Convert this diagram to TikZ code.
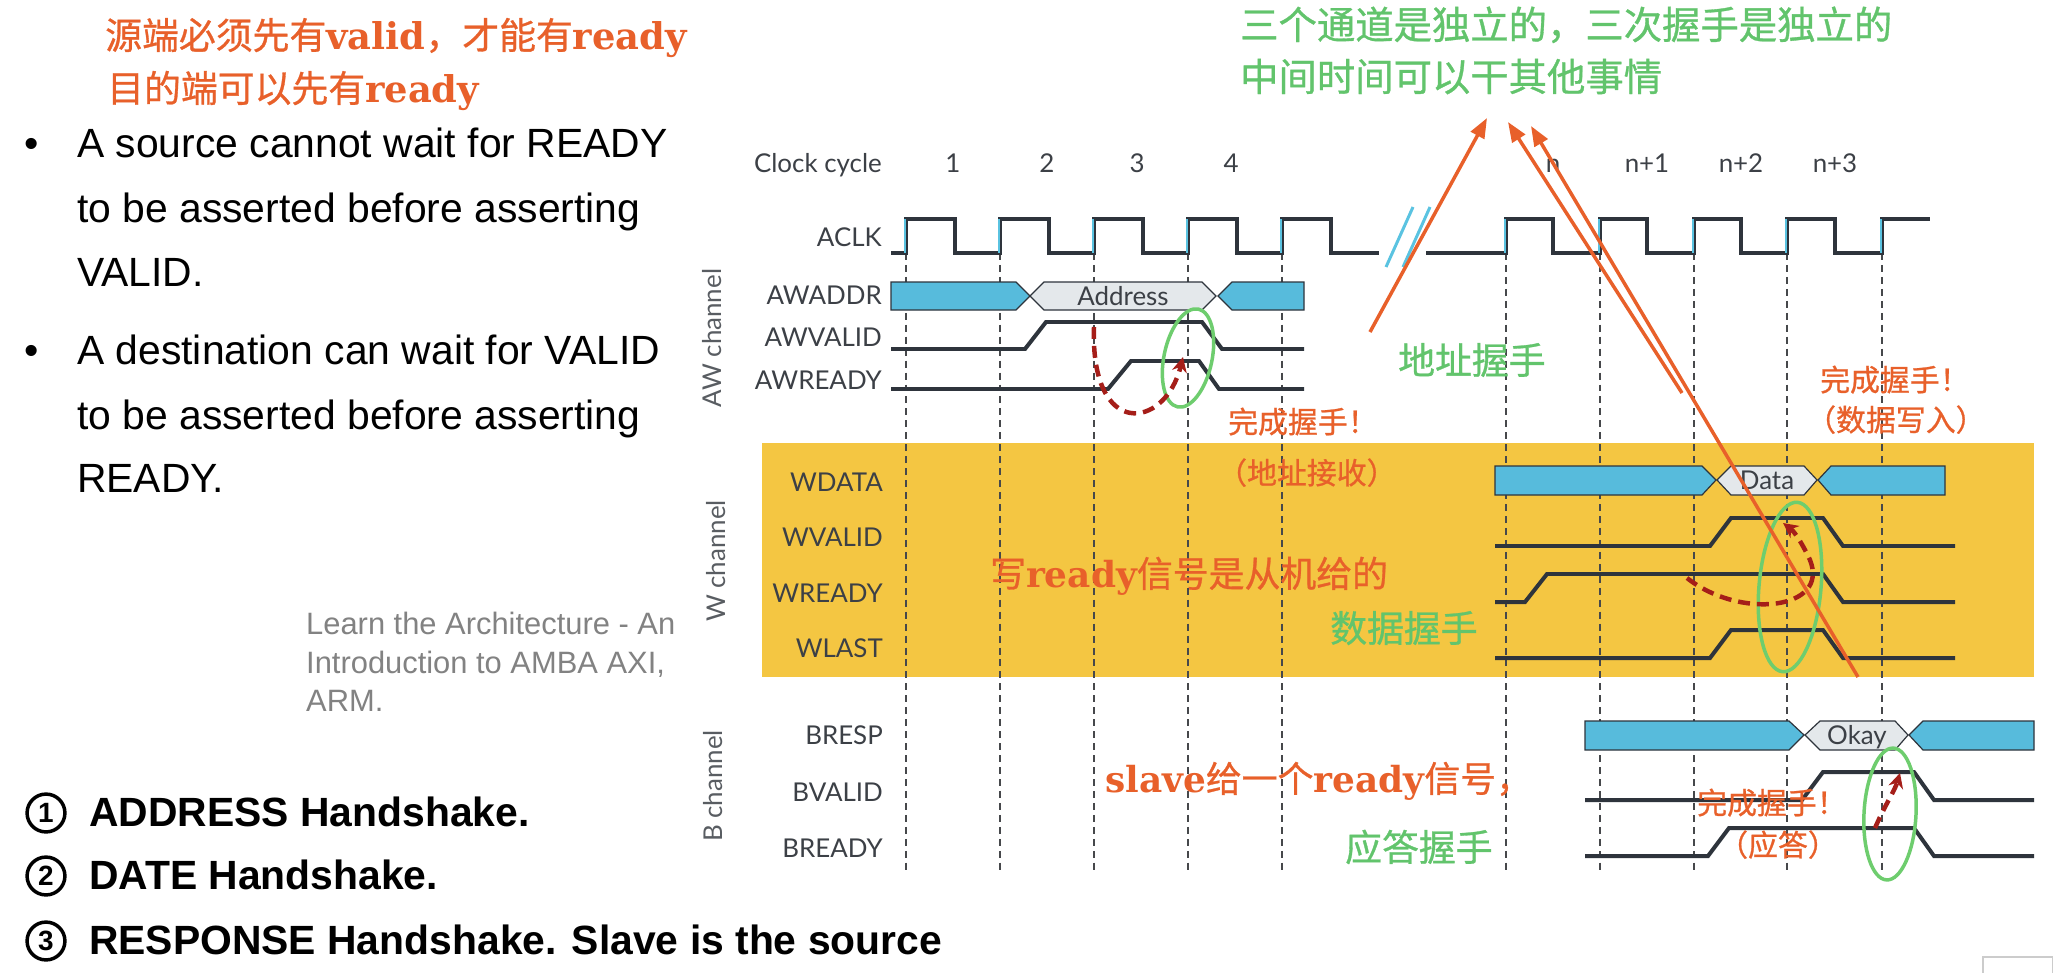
\documentclass[tikz,border=0pt]{standalone}
\usepackage{fontspec}
\setmainfont{Liberation Sans}
\newfontfamily\latofont{Lato}
\newfontfamily\cjkfont{Noto Sans CJK SC}[FakeBold=0.8]
\newfontfamily\slabfont{DejaVu Serif}
\usetikzlibrary{arrows.meta}

\definecolor{sigdark}{RGB}{46,52,60}
\definecolor{busblue}{RGB}{87,187,220}
\definecolor{hexgray}{RGB}{228,232,235}
\definecolor{edgecyan}{RGB}{90,195,225}
\definecolor{bandyellow}{RGB}{244,198,66}
\definecolor{gridgray}{RGB}{70,72,75}
\definecolor{noteorange}{RGB}{232,96,42}
\definecolor{notegreen}{RGB}{98,196,108}
\definecolor{ringgreen}{RGB}{110,205,110}
\definecolor{hsred}{RGB}{165,30,25}
\definecolor{labelgray}{RGB}{60,64,70}
\definecolor{refgray}{RGB}{130,130,130}

\newcommand{\fsz}[1]{\fontsize{#1}{#1}\selectfont}
\newcommand{\en}[1]{{\slabfont\bfseries #1}}

\begin{document}
\begin{tikzpicture}[x=1bp,y=-1bp,
  sig/.style={draw=sigdark,line width=4pt},
  bus/.style={fill=busblue,draw=sigdark,line width=1.2pt},
  hexbox/.style={fill=hexgray,draw=sigdark,line width=1.2pt},
  cyclegrid/.style={draw=gridgray,dash pattern=on 7pt off 5pt,line width=1.5pt},
  siglabel/.style={font=\latofont\fsz{26},text=labelgray,anchor=east},
  chanlabel/.style={font=\latofont\fsz{26},text=labelgray!85,rotate=90},
  bullettext/.style={font=\fsz{41},anchor=base west},
  stepnote/.style={font=\bfseries\fsz{41},anchor=base west},
  stepnum/.style={circle,draw,line width=3.5pt,minimum size=38pt,font=\bfseries\fsz{28}},
  orangenote/.style={font=\cjkfont\fsz{30},text=noteorange,anchor=base west},
  bignote/.style={font=\cjkfont\fsz{36},text=noteorange,anchor=base west},
  greennote/.style={font=\cjkfont\fsz{37},text=notegreen,anchor=base west},
  ring/.style={draw=ringgreen,line width=3.5pt},
  hsarrow/.style={draw=hsred,line width=4.5pt,dash pattern=on 12pt off 7pt,-{Stealth[length=15pt,width=15pt]}},
  longarrow/.style={draw=noteorange,line width=3.5pt,-{Triangle[length=20pt,width=15pt]}}]
\tikzstyle{every node}+=[inner sep=0pt]
\fill [white] (0,0) rectangle (2053,973);
\useasboundingbox (0,0) rectangle (2053,973);
% W channel band
\fill [bandyellow] (762,443) rectangle (2034,677);
% cycle lines
\draw [cyclegrid] (906,253) -- (906,873) (1000,253) -- (1000,873) (1094,253) -- (1094,873)
  (1188,253) -- (1188,873) (1282,253) -- (1282,873) (1506,253) -- (1506,873)
  (1600,253) -- (1600,873) (1694,253) -- (1694,873) (1787,253) -- (1787,873) (1882,253) -- (1882,873);
% clock
\draw [sig] (891,253) -- (906,253) -- (906,219) -- (955,219) -- (955,253) -- (1000,253) -- (1000,219)
  -- (1049,219) -- (1049,253) -- (1094,253) -- (1094,219) -- (1143,219) -- (1143,253) -- (1188,253)
  -- (1188,219) -- (1237,219) -- (1237,253) -- (1282,253) -- (1282,219) -- (1331,219) -- (1331,253) -- (1379,253);
\draw [sig] (1426,253) -- (1506,253) -- (1506,219) -- (1553,219) -- (1553,253) -- (1600,253) -- (1600,219)
  -- (1647,219) -- (1647,253) -- (1694,253) -- (1694,219) -- (1741,219) -- (1741,253) -- (1787,253)
  -- (1787,219) -- (1835,219) -- (1835,253) -- (1882,253) -- (1882,219) -- (1930,219);
\draw [edgecyan,line width=2.5pt] (905,219) -- (905,253) (999,219) -- (999,253) (1093,219) -- (1093,253)
  (1187,219) -- (1187,253) (1281,219) -- (1281,253) (1505,219) -- (1505,253) (1599,219) -- (1599,253)
  (1693,219) -- (1693,253) (1786,219) -- (1786,253) (1881,219) -- (1881,253);
\draw [edgecyan,line width=3pt] (1386,267) -- (1413,207) (1403,267) -- (1430,207);
% AW channel
\draw [bus] (891,282) -- (1016,282) -- (1030,296) -- (1016,310) -- (891,310) -- cycle;
\draw [hexbox] (1030,296) -- (1044,282) -- (1202,282) -- (1216,296) -- (1202,310) -- (1044,310) -- cycle;
\draw [bus] (1218,296) -- (1232,282) -- (1304,282) -- (1304,310) -- (1232,310) -- cycle;
\node [font=\latofont\fsz{26},text=labelgray] (addr) at (1123,296) {Address};
\draw [sig] (891,349) -- (1025,349) -- (1046,322) -- (1202,322) -- (1222,349) -- (1304,349);
\draw [sig] (891,389) -- (1108,389) -- (1131,361) -- (1199,361) -- (1219,389) -- (1304,389);
% W channel
\draw [bus] (1495,466) -- (1702,466) -- (1716,480) -- (1702,495) -- (1495,495) -- cycle;
\draw [hexbox] (1717,480) -- (1731,466) -- (1804,466) -- (1817,480) -- (1804,495) -- (1731,495) -- cycle;
\draw [bus] (1818,480) -- (1831,466) -- (1945,466) -- (1945,495) -- (1831,495) -- cycle;
\node [font=\latofont\fsz{26},text=labelgray] (data) at (1767,480) {Data};
\draw [sig] (1495,546) -- (1710,546) -- (1731,518) -- (1823,518) -- (1843,546) -- (1955,546);
\draw [sig] (1495,602) -- (1525,602) -- (1547,574) -- (1823,574) -- (1843,602) -- (1955,602);
\draw [sig] (1495,658) -- (1710,658) -- (1731,630) -- (1823,630) -- (1843,658) -- (1955,658);
% B channel
\draw [bus] (1585,721) -- (1789,721) -- (1804,735) -- (1789,750) -- (1585,750) -- cycle;
\draw [hexbox] (1805,735) -- (1820,721) -- (1895,721) -- (1908,735) -- (1895,750) -- (1820,750) -- cycle;
\draw [bus] (1909,735) -- (1923,721) -- (2034,721) -- (2034,750) -- (1923,750) -- cycle;
\node [font=\latofont\fsz{26},text=labelgray,anchor=base] (okay) at (1857,744) {Okay};
\draw [sig] (1585,800) -- (1802,800) -- (1823,772) -- (1914,772) -- (1934,800) -- (2034,800);
\draw [sig] (1585,856) -- (1708,856) -- (1729,828) -- (1914,828) -- (1934,856) -- (2034,856);
% signal names
\node [siglabel,anchor=base east] (cyc) at (882,172) {Clock cycle};
\node [font=\latofont\fsz{26},text=labelgray,anchor=base] (c1) at (953,172) {1};
\node [font=\latofont\fsz{26},text=labelgray,anchor=base] (c2) at (1047,172) {2};
\node [font=\latofont\fsz{26},text=labelgray,anchor=base] (c3) at (1137,172) {3};
\node [font=\latofont\fsz{26},text=labelgray,anchor=base] (c4) at (1231,172) {4};
\node [font=\latofont\fsz{26},text=labelgray,anchor=base] (cn) at (1553,172) {n};
\node [font=\latofont\fsz{26},text=labelgray,anchor=base] (cn1) at (1647,172) {n+1};
\node [font=\latofont\fsz{26},text=labelgray,anchor=base] (cn2) at (1741,172) {n+2};
\node [font=\latofont\fsz{26},text=labelgray,anchor=base] (cn3) at (1835,172) {n+3};
\node [siglabel] (aclk) at (882,237) {ACLK};
\node [siglabel] (awaddr) at (882,295) {AWADDR};
\node [siglabel] (awvalid) at (882,337) {AWVALID};
\node [siglabel] (awready) at (882,380) {AWREADY};
\node [siglabel] (wdata) at (883,482) {WDATA};
\node [siglabel] (wvalid) at (883,537) {WVALID};
\node [siglabel] (wready) at (883,593) {WREADY};
\node [siglabel] (wlast) at (883,648) {WLAST};
\node [siglabel] (bresp) at (883,735) {BRESP};
\node [siglabel] (bvalid) at (883,792) {BVALID};
\node [siglabel] (bready) at (883,848) {BREADY};
\node [chanlabel] (awchan) at (712,338) {AW channel};
\node [chanlabel] (wchan) at (716,561) {W channel};
\node [chanlabel] (bchan) at (713,786) {B channel};
% left texts
\node [font=\cjkfont\fsz{37},text=noteorange,anchor=base west] (rule1) at (105,49) {源端必须先有\en{valid}，才能有\en{ready}};
\node [font=\cjkfont\fsz{37},text=noteorange,anchor=base west] (rule2) at (107,102) {目的端可以先有\en{ready}};
\node [bullettext] (dotA) at (24,157) {•};
\node [bullettext] (srcA) at (77,157) {A source cannot wait for READY};
\node [bullettext] (srcB) at (77,222) {to be asserted before asserting};
\node [bullettext] (srcC) at (77,286) {VALID.};
\node [bullettext] (dotB) at (24,364) {•};
\node [bullettext] (dstA) at (77,364) {A destination can wait for VALID};
\node [bullettext] (dstB) at (77,429) {to be asserted before asserting};
\node [bullettext] (dstC) at (77,492) {READY.};
\node [font=\fsz{31},text=refgray,anchor=base west] (refA) at (306,634) {Learn the Architecture - An};
\node [font=\fsz{31},text=refgray,anchor=base west] (refB) at (306,673) {Introduction to AMBA AXI,};
\node [font=\fsz{31},text=refgray,anchor=base west] (refC) at (306,711) {ARM.};
\node [stepnum] (numA) at (46,813) {1};
\node [stepnum] (numB) at (46,876) {2};
\node [stepnum] (numC) at (46,941) {3};
\node [stepnote] (stepA) at (89,826) {ADDRESS Handshake.};
\node [stepnote] (stepB) at (89,889) {DATE Handshake.};
\node [stepnote] (stepC) at (89,954) {RESPONSE Handshake. Slave is the source};
% notes
\node [font=\cjkfont\fsz{38.5},text=notegreen,anchor=base west] (indepA) at (1240,39) {三个通道是独立的，三次握手是独立的};
\node [font=\cjkfont\fsz{38.5},text=notegreen,anchor=base west] (indepB) at (1240,91) {中间时间可以干其他事情};
\node [greennote] (addrhs) at (1398,374) {地址握手};
\node [greennote] (datahs) at (1330,642) {数据握手};
\node [greennote] (resphs) at (1345,861) {应答握手};
\node [orangenote] (doneA) at (1228,433) {完成握手！};
\node [orangenote] (doneAb) at (1217,484) {（地址接收）};
\node [orangenote] (doneW) at (1820,391) {完成握手！};
\node [orangenote] (doneWb) at (1806,431) {（数据写入）};
\node [orangenote] (doneB) at (1697,814) {完成握手！};
\node [orangenote] (doneBb) at (1718,856) {（应答）};
\node [bignote] (wready) at (990,587) {写\en{ready}信号是从机给的};
\node [bignote] (slave) at (1105,792) {\en{slave}给一个\en{ready}信号，};
% handshakes
\draw [ring,rotate around={-12:(1188,358)}] (1188,358) ellipse [x radius=24,y radius=50];
\draw [ring,rotate around={-5:(1790,587)}] (1790,587) ellipse [x radius=31,y radius=85];
\draw [ring,rotate around={-3:(1890,814)}] (1890,814) ellipse [x radius=26,y radius=66];
\coordinate (awfrom) at (1094,327);
\coordinate (awto) at (1183,357);
\coordinate (wfrom) at (1687,578);
\coordinate (wto) at (1783,523);
\coordinate (bfrom) at (1875,828);
\coordinate (bto) at (1900,773);
\draw [hsarrow] (awfrom) .. controls (1090,440) and (1165,430) .. (awto);
\draw [hsarrow] (wfrom) .. controls (1740,620) and (1830,610) .. (1810,560) .. controls (1803,545) and (1795,532) .. (wto);
\draw [hsarrow] (bfrom) .. controls (1885,805) and (1895,790) .. (bto);
% long arrows
\coordinate (addrtail) at (1370,332);
\coordinate (addrtip) at (1487,118);
\coordinate (datatail) at (1682,393);
\coordinate (datatip) at (1508,122);
\coordinate (resptail) at (1858,677);
\coordinate (resptip) at (1531,126);
\draw [longarrow] (addrtail) -- (addrtip);
\draw [longarrow] (datatail) -- (datatip);
\draw [longarrow] (resptail) -- (resptip);
\draw [gray!40,line width=1.5pt] (1983,957) rectangle (2053,975);
\end{tikzpicture}
\end{document}
